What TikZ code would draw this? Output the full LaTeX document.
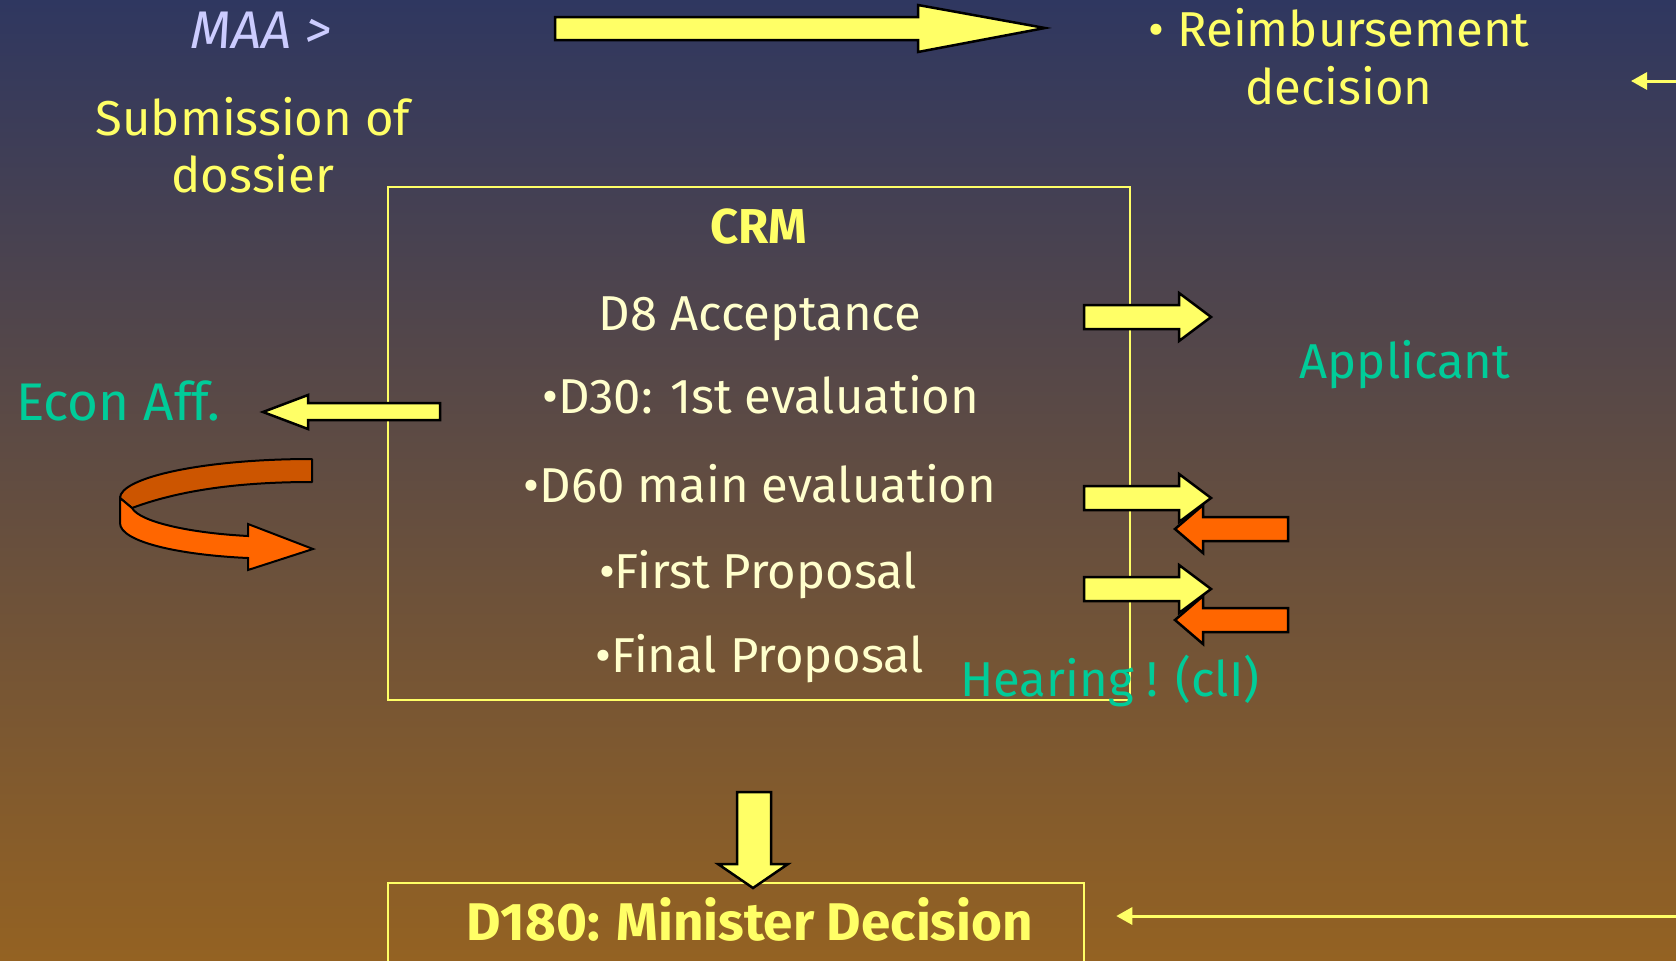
\documentclass[tikz,border=0pt]{standalone}
\usepackage{fontspec}
\setmainfont{Fira Sans}
\usetikzlibrary{arrows.meta}

\definecolor{bgtop}{RGB}{47,55,96}
\definecolor{bgmid}{RGB}{110,80,78}
\definecolor{bgbot}{RGB}{148,98,34}
\definecolor{slideyellow}{RGB}{255,255,102}
\definecolor{slidecream}{RGB}{255,255,204}
\definecolor{slideteal}{RGB}{0,204,153}
\definecolor{slidelav}{RGB}{204,204,255}
\definecolor{ribbonlight}{RGB}{255,102,0}
\definecolor{ribbondark}{RGB}{204,85,0}

\newcommand{\slidesize}{\fontsize{49}{57}\selectfont}
\newcommand{\widesize}{\fontsize{53}{60}\selectfont}

\tikzset{
  slidetext/.style={inner sep=0pt, anchor=base, font=\slidesize},
  blockarrow/.style={draw=black, line width=2.5pt, fill=slideyellow, line join=miter},
  backarrow/.style={blockarrow, fill=ribbonlight},
  thinarrow/.style={draw=slideyellow, line width=3pt, -{Triangle[length=16pt,width=17pt]}},
  framebox/.style={draw=slideyellow, line width=2.5pt, inner sep=0pt},
}

\begin{document}
\begin{tikzpicture}[x=1pt,y=-1pt]
    \useasboundingbox (0,0) rectangle (1676,961);
    \clip (0,0) rectangle (1676,961);
    \fill[top color=bgtop, middle color=bgmid, bottom color=bgbot] (0,0) rectangle (1676,961);

    \node[framebox, minimum width=742pt, minimum height=513pt] (crmbox) at (759,443.5) {};
    \node[framebox, minimum width=696pt, minimum height=100pt] (d180box) at (736,933) {};

    \node[slidetext, text=slidelav, font=\widesize\itshape] (maa) at (261,48) {MAA >};
    \node[slidetext, text=slideyellow] (sub1) at (253,135) {Submission of};
    \node[slidetext, text=slideyellow] (sub2) at (253,192) {dossier};
    \node[slidetext, text=slideyellow] (reimb1) at (1339,46) {• Reimbursement};
    \node[slidetext, text=slideyellow] (reimb2) at (1339,104) {decision};

    \node[slidetext, text=slideyellow, font=\slidesize\bfseries] (crm) at (759,243) {CRM};
    \node[slidetext, text=slidecream] (d8) at (760,330) {D8 Acceptance};
    \node[slidetext, text=slidecream] (d30) at (761,413) {•D30: 1st evaluation};
    \node[slidetext, text=slidecream] (d60) at (760,502) {•D60 main evaluation};
    \node[slidetext, text=slidecream] (firstp) at (758,588) {•First Proposal};
    \node[slidetext, text=slidecream] (finalp) at (760,672) {•Final Proposal};

    \node[slidetext, text=slideteal, font=\widesize] (econ) at (118,420) {Econ Aff.};
    \node[slidetext, text=slideteal] (applicant) at (1405,378) {Applicant};
    \node[slidetext, text=slideteal] (hearing) at (1110,696) {Hearing ! (clI)};
    \node[slidetext, text=slideyellow, font=\widesize\bfseries] (d180) at (750,940) {D180: Minister Decision};

    \draw[blockarrow] (555,17) -- (918,17) -- (918,5) -- (1045,28) -- (918,52) -- (918,40) -- (555,40) -- cycle;
    \draw[blockarrow] (440,403) -- (308,403) -- (308,395) -- (263,412) -- (308,429) -- (308,420) -- (440,420) -- cycle;
    \draw[blockarrow] (737,792) -- (771,792) -- (771,864) -- (788,864) -- (753,888) -- (718,864) -- (737,864) -- cycle;
    \foreach \y in {317,498,589}
        \draw[blockarrow, shift={(0,\y)}] (1084,-12) -- (1179,-12) -- (1179,-24) -- (1211,0) -- (1179,24) -- (1179,12) -- (1084,12) -- cycle;
    \foreach \y in {529,620}
        \draw[backarrow, shift={(0,\y)}] (1288,-12) -- (1203,-12) -- (1203,-24) -- (1175,0) -- (1203,24) -- (1203,12) -- (1288,12) -- cycle;

    \draw[fill=ribbondark, line width=2pt, line join=round] (312,459) .. controls (201,459) and (120,478) .. (120,498)
        -- (132,508) .. controls (180,490) and (240,482) .. (312,482) -- cycle;
    \draw[fill=ribbonlight, line width=2pt, line join=miter] (120,498) -- (120,523) .. controls (120,542) and (180,555) .. (248,558)
        -- (248,570) -- (313,549) -- (248,524) -- (248,536) .. controls (190,533) and (140,522) .. (132,508) -- cycle;

    \coordinate (rimright) at (1680,81);
    \coordinate (rimtip) at (1631,81);
    \coordinate (decright) at (1680,916);
    \draw[thinarrow] (rimright) -- (rimtip);
    \draw[thinarrow, shorten >=31pt] (decright) -- (d180box.east |- decright);
\end{tikzpicture}
\end{document}
